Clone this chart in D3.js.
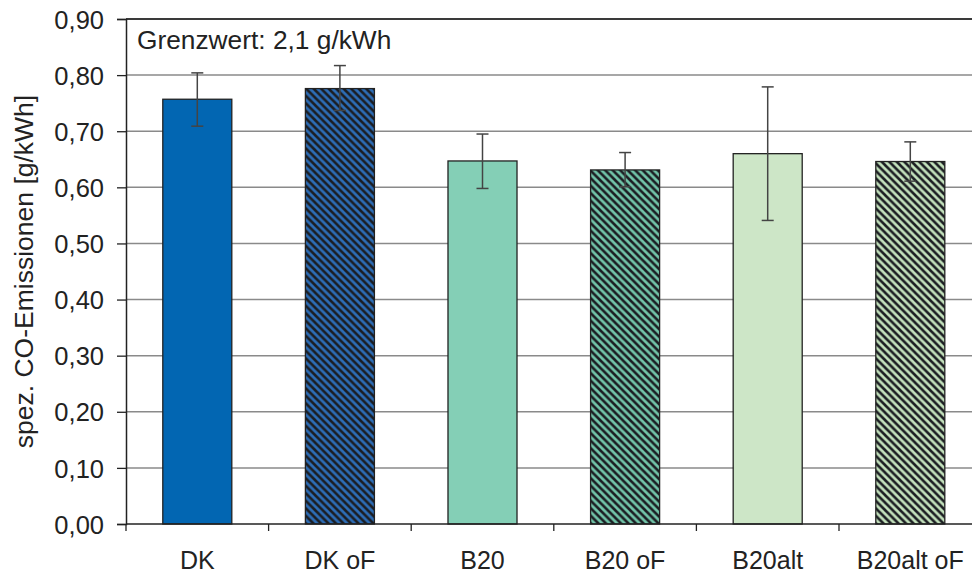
<!DOCTYPE html>
<html>
<head>
<meta charset="utf-8">
<script src="https://cdn.jsdelivr.net/npm/d3@7/dist/d3.min.js"></script>
<style>
  html, body { margin: 0; padding: 0; background: #fff; }
  svg { display: block; }
  text { font-family: "Liberation Sans", Arial, Helvetica, sans-serif; fill: #222; }
</style>
</head>
<body>
<svg id="chart" width="972" height="574"></svg>
<script>
// ---- data ----
const categories = ["DK", "DK oF", "B20", "B20 oF", "B20alt", "B20alt oF"];
const values     = [0.757, 0.776, 0.647, 0.631, 0.660, 0.646];
const errLow     = [0.709, 0.737, 0.598, 0.601, 0.541, 0.611];
const errHigh    = [0.804, 0.817, 0.695, 0.662, 0.779, 0.681];
const yTicks     = [0, 0.1, 0.2, 0.3, 0.4, 0.5, 0.6, 0.7, 0.8, 0.9];
const yTitle     = "spez. CO-Emissionen [g/kWh]";
const annotation = "Grenzwert: 2,1 g/kWh";

// ---- styles ----
const fills   = ["#0266B2", "#2D6DB6", "#84CFB6", "#72C5A9", "#CDE6C7", "#C3E1BC"];
const hatched = [false, true, false, true, false, true];

const svg = d3.select("#chart");
const margin = { left: 126, top: 19, bottom: 50 };
const W = 972, H = 574;
const plotRight = 981.6;
const plotBottom = H - margin.bottom; // 524

const x = d3.scaleBand()
  .domain(categories)
  .range([margin.left, plotRight])
  .paddingInner(0.516)
  .paddingOuter(0.258);

const y = d3.scaleLinear()
  .domain([0, 0.9])
  .range([plotBottom, margin.top]);

// patterns
const P = 7.5;
const defs = svg.append("defs");
categories.forEach((c, i) => {
  if (!hatched[i]) return;
  const p = defs.append("pattern")
    .attr("id", "hatch" + i)
    .attr("patternUnits", "userSpaceOnUse")
    .attr("width", P).attr("height", P);
  p.append("rect").attr("width", P).attr("height", P).attr("fill", fills[i]);
  p.append("path")
    .attr("d", `M-2,-2 L${P + 2},${P + 2} M${-P / 2 - 2},${P / 2 - 2} L${P / 2 + 2},${1.5 * P + 2} M${P / 2 - 2},${-P / 2 - 2} L${1.5 * P + 2},${P / 2 + 2}`)
    .attr("stroke", "#1b1d22").attr("stroke-width", 2.6);
});

// gridlines
svg.append("g")
  .selectAll("line")
  .data(yTicks.filter(t => t > 0 && t < 0.9))
  .join("line")
  .attr("x1", margin.left).attr("x2", W)
  .attr("y1", d => y(d)).attr("y2", d => y(d))
  .attr("stroke", "#8a8a8a").attr("stroke-width", 1.5);

// top border
svg.append("line")
  .attr("x1", margin.left).attr("x2", W)
  .attr("y1", y(0.9)).attr("y2", y(0.9))
  .attr("stroke", "#3a3a3a").attr("stroke-width", 2);

// bars
svg.append("g")
  .selectAll("rect")
  .data(categories)
  .join("rect")
  .attr("x", d => x(d))
  .attr("width", x.bandwidth())
  .attr("y", (d, i) => y(values[i]))
  .attr("height", (d, i) => y(0) - y(values[i]))
  .attr("fill", (d, i) => hatched[i] ? "url(#hatch" + i + ")" : fills[i])
  .attr("stroke", "#222").attr("stroke-width", 1.3);

// error bars
const eb = svg.append("g").attr("stroke", "#444").attr("stroke-width", 1.5);
categories.forEach((c, i) => {
  const cx = x(c) + x.bandwidth() / 2;
  eb.append("line").attr("x1", cx).attr("x2", cx).attr("y1", y(errLow[i])).attr("y2", y(errHigh[i]));
  eb.append("line").attr("x1", cx - 6).attr("x2", cx + 6).attr("y1", y(errLow[i])).attr("y2", y(errLow[i]));
  eb.append("line").attr("x1", cx - 6).attr("x2", cx + 6).attr("y1", y(errHigh[i])).attr("y2", y(errHigh[i]));
});

// y axis
const yAxis = d3.axisLeft(y)
  .tickValues(yTicks)
  .tickSize(9)
  .tickPadding(13)
  .tickFormat(d => d3.format(".2f")(d).replace(".", ","));
const ya = svg.append("g").attr("transform", `translate(${margin.left},0)`).call(yAxis);
ya.select(".domain").attr("stroke", "#222").attr("stroke-width", 1.5);
ya.selectAll(".tick line").attr("stroke", "#222").attr("stroke-width", 1.3);
ya.selectAll(".tick text")
  .attr("font-size", 25.5)
  .attr("font-family", "'Liberation Sans', Arial, sans-serif")
  .attr("fill", "#222")
  .attr("dy", "0.36em");

// x axis with ticks at category boundaries
const xa = svg.append("g").attr("transform", `translate(0,${plotBottom})`);
xa.append("line").attr("x1", margin.left).attr("x2", W).attr("y1", 0).attr("y2", 0)
  .attr("stroke", "#222").attr("stroke-width", 1.5);
const bounds = categories.map(c => x(c) - x.step() * x.paddingInner() / 2);
bounds.push(plotRight);
xa.selectAll(".bt").data(bounds).join("line")
  .attr("x1", d => d).attr("x2", d => d).attr("y1", 0).attr("y2", 7)
  .attr("stroke", "#222").attr("stroke-width", 1.3);
xa.selectAll(".xl").data(categories).join("text")
  .attr("x", d => x(d) + x.bandwidth() / 2)
  .attr("y", 44.5)
  .attr("text-anchor", "middle")
  .attr("font-size", 25)
  .text(d => d);

// y title
svg.append("text")
  .attr("transform", `translate(33,${(plotBottom + margin.top) / 2}) rotate(-90)`)
  .attr("text-anchor", "middle")
  .attr("font-size", 26.5)
  .text(yTitle);

// annotation
svg.append("text")
  .attr("x", 137).attr("y", 49)
  .attr("font-size", 26.3)
  .text(annotation);
</script>
</body>
</html>
